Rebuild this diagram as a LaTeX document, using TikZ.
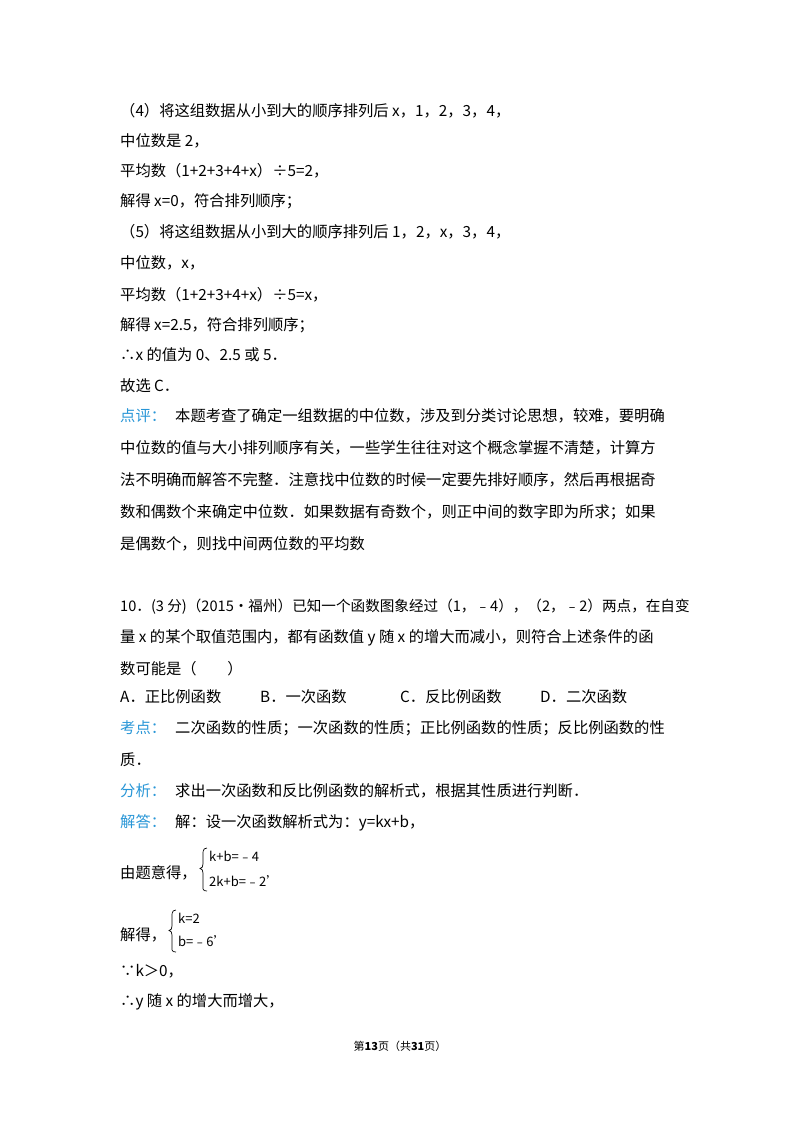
\documentclass[tikz,border=0pt]{standalone}
\usepackage{fontspec}
\setmainfont{Noto Sans CJK SC}
\definecolor{lab}{RGB}{40,150,215}
\begin{document}
\begin{tikzpicture}[x=1pt,y=-1pt,
  t/.style={anchor=base west,inner sep=0pt,font=\fontsize{15.3}{18}\selectfont},
  l/.style={t,text=lab}]
\useasboundingbox (0,0) rectangle (800,1132);
\fill[white] (0,0) rectangle (800,1132);
\node[t] (a1) at (120,116) {（4）将这组数据从小到大的顺序排列后 x，1，2，3，4，};
\node[t] (a2) at (120,146) {中位数是 2，};
\node[t] (a3) at (120,176) {平均数（1+2+3+4+x）÷5=2，};
\node[t] (a4) at (120,206) {解得 x=0，符合排列顺序；};
\node[t] (a5) at (120,237) {（5）将这组数据从小到大的顺序排列后 1，2，x，3，4，};
\node[t] (a6) at (120,268) {中位数，x，};
\node[t] (a7) at (120,300) {平均数（1+2+3+4+x）÷5=x，};
\node[t] (a8) at (120,330) {解得 x=2.5，符合排列顺序；};
\node[t] (a9) at (120,360) {∴x 的值为 0、2.5 或 5．};
\node[t] (a10) at (120,391) {故选 C．};
\node[l] (b0) at (120,421) {点评：};
\node[t] (b1) at (175,421) {本题考查了确定一组数据的中位数，涉及到分类讨论思想，较难，要明确};
\node[t] (b2) at (120,453) {中位数的值与大小排列顺序有关，一些学生往往对这个概念掌握不清楚，计算方};
\node[t] (b3) at (120,485) {法不明确而解答不完整．注意找中位数的时候一定要先排好顺序，然后再根据奇};
\node[t] (b4) at (120,517) {数和偶数个来确定中位数．如果数据有奇数个，则正中间的数字即为所求；如果};
\node[t] (b5) at (120,549) {是偶数个，则找中间两位数的平均数};
\node[t,font=\fontsize{14.6}{18}\selectfont] (c1) at (120,611) {10．(3 分)（2015•福州）已知一个函数图象经过（1，﹣4），（2，﹣2）两点，在自变};
\node[t] (c2) at (120,642) {量 x 的某个取值范围内，都有函数值 y 随 x 的增大而减小，则符合上述条件的函};
\node[t] (c3) at (120,674) {数可能是（\qquad）};
\node[t] (c4) at (120,702) {A．正比例函数};
\node[t] (c5) at (260,702) {B．一次函数};
\node[t] (c6) at (400,702) {C．反比例函数};
\node[t] (c7) at (540,702) {D．二次函数};
\node[l] (d0) at (120,733) {考点：};
\node[t] (d1) at (175,733) {二次函数的性质；一次函数的性质；正比例函数的性质；反比例函数的性};
\node[t] (d2) at (120,765) {质．};
\node[l] (e0) at (120,796) {分析：};
\node[t] (e1) at (175,796) {求出一次函数和反比例函数的解析式，根据其性质进行判断．};
\node[l] (f0) at (120,827) {解答：};
\node[t] (f1) at (175,827) {解：设一次函数解析式为：y=kx+b，};
\node[t] (g0) at (120,878) {由题意得，};
\node[t,font=\fontsize{13}{15}\selectfont] (g1) at (209,861) {k+b=﹣4};
\node[t,font=\fontsize{13}{15}\selectfont] (g2) at (209,886) {2k+b=﹣2’};
\draw[line width=0.7pt] (207,848) .. controls (202,848) and (203,853) .. (203,860) -- (203,864) .. controls (203,867) and (202,868) .. (200,868.5) .. controls (202,869) and (203,870) .. (203,873) -- (203,882) .. controls (203,889) and (202,891) .. (207,891);
\node[t] (h0) at (120,940) {解得，};
\node[t,font=\fontsize{13}{15}\selectfont] (h1) at (178,923) {k=2};
\node[t,font=\fontsize{13}{15}\selectfont] (h2) at (178,946) {b=﹣6’};
\draw[line width=0.7pt] (176,910) .. controls (171,910) and (172,915) .. (172,922) -- (172,926) .. controls (172,929) and (171,930) .. (169,930.5) .. controls (171,931) and (172,932) .. (172,935) -- (172,943) .. controls (172,950) and (171,952) .. (176,952);
\node[t] (i1) at (120,976) {∵k＞0，};
\node[t] (i2) at (120,1006) {∴y 随 x 的增大而增大，};
\node[anchor=base,inner sep=0pt,font=\fontsize{11}{13}\selectfont] (pg) at (400,1050) {第\textbf{13}页（共\textbf{31}页）};
\end{tikzpicture}
\end{document}
